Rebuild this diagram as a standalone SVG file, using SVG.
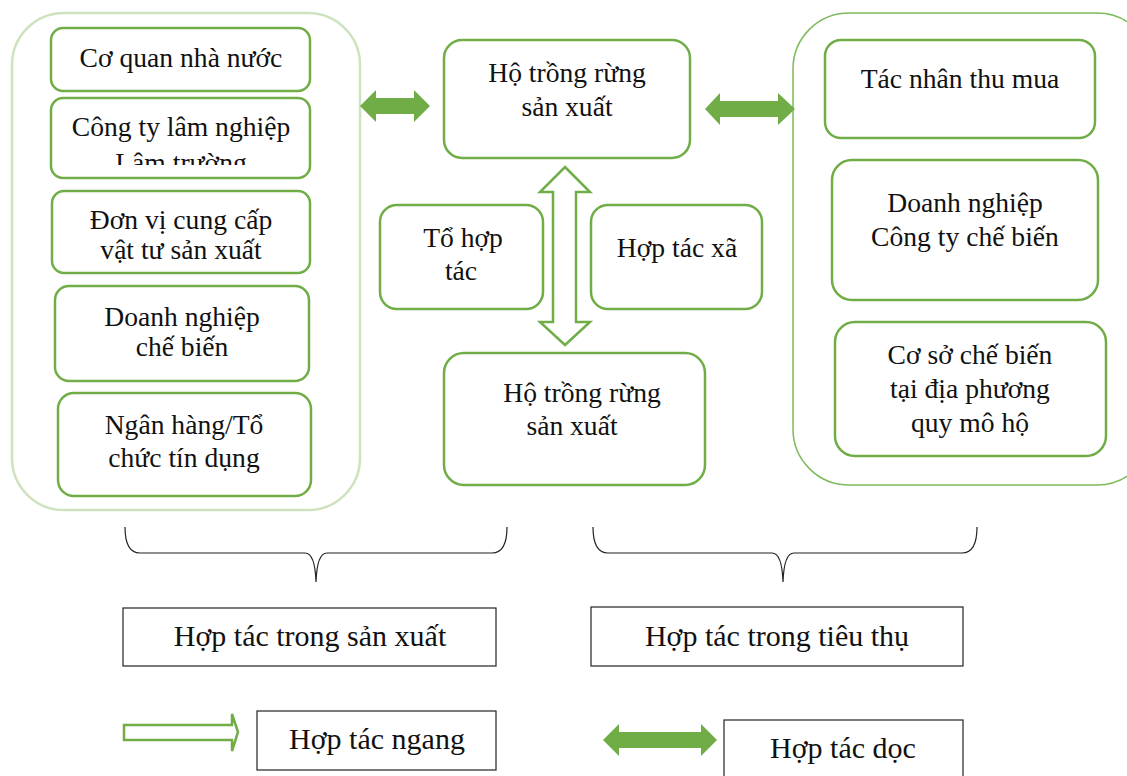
<svg xmlns="http://www.w3.org/2000/svg" width="1127" height="776" viewBox="0 0 1127 776">
<style>
.box{fill:#fff;stroke:#70ad47;stroke-width:2.5}
.t{font-family:'Liberation Serif','DejaVu Serif',serif;font-size:27.6px;fill:#111;text-anchor:middle}
.tb{font-family:'Liberation Serif','DejaVu Serif',serif;font-size:30px;fill:#111;text-anchor:middle}
.lbl{fill:#fff;stroke:#222;stroke-width:1.2}
.arr{fill:#70ad47;stroke:none}
.hollow{fill:#fff;stroke:#70ad47;stroke-width:2.5;stroke-linejoin:miter}
.brace{fill:none;stroke:#222;stroke-width:1.2}
</style>
<defs>
<clipPath id="clip2"><rect x="40" y="95" width="290" height="70"/></clipPath>
</defs>
<rect width="1127" height="776" fill="#fff"/>
<g id="left-group">
<rect x="12" y="13" width="348" height="497" rx="52" fill="#fff" stroke="#cde2bd" stroke-width="2.5"/>
</g>
<g id="right-group">
<rect x="793" y="13" width="360" height="472" rx="56" fill="#fff" stroke="#7dbb5a" stroke-width="1.5"/>
</g>
<g id="n-coquan"><rect class="box" x="51" y="28" width="259" height="63" rx="12"/><text class="t" x="181" y="67">Cơ quan nhà nước</text></g>
<g id="n-congty"><rect class="box" x="51" y="98" width="259" height="80" rx="12"/><g clip-path="url(#clip2)"><text class="t" x="181" y="136">Công ty lâm nghiệp</text><text class="t" x="181" y="172">Lâm trường</text></g></g>
<g id="n-donvi"><rect class="box" x="52" y="191" width="258" height="82" rx="12"/><text class="t" x="181" y="229">Đơn vị cung cấp</text><text class="t" x="181" y="259">vật tư sản xuất</text></g>
<g id="n-dn-left"><rect class="box" x="55" y="286" width="254" height="95" rx="14"/><text class="t" x="182" y="326">Doanh nghiệp</text><text class="t" x="182" y="356">chế biến</text></g>
<g id="n-nganhang"><rect class="box" x="58" y="393" width="253" height="103" rx="16"/><text class="t" x="184" y="434">Ngân hàng/Tổ</text><text class="t" x="184" y="467">chức tín dụng</text></g>
<g id="n-ho-top"><rect class="box" x="444" y="40" width="246" height="118" rx="18"/><text class="t" x="567" y="82">Hộ trồng rừng</text><text class="t" x="567" y="116">sản xuất</text></g>
<g id="n-tohop"><rect class="box" x="380" y="205" width="163" height="104" rx="17"/><text class="t" x="463" y="247">Tổ hợp</text><text class="t" x="461" y="280">tác</text></g>
<g id="n-htx"><rect class="box" x="591" y="205" width="171" height="104" rx="17"/><text class="t" x="677" y="257">Hợp tác xã</text></g>
<g id="n-ho-bottom"><rect class="box" x="444" y="353" width="261" height="132" rx="20"/><text class="t" x="582" y="402">Hộ trồng rừng</text><text class="t" x="572" y="435">sản xuất</text></g>
<g id="n-tacnhan"><rect class="box" x="825" y="40" width="270" height="98" rx="16"/><text class="t" x="960" y="88">Tác nhân thu mua</text></g>
<g id="n-dn-right"><rect class="box" x="832" y="160" width="266" height="140" rx="20"/><text class="t" x="965" y="212">Doanh nghiệp</text><text class="t" x="965" y="246">Công ty chế biến</text></g>
<g id="n-coso"><rect class="box" x="835" y="322" width="271" height="134" rx="20"/><text class="t" x="970" y="364">Cơ sở chế biến</text><text class="t" x="970" y="398">tại địa phương</text><text class="t" x="970" y="432">quy mô hộ</text></g>
<g id="connectors">
<polygon class="arr" points="360,106 376,90 376,98 414,98 414,90 430,106 414,122 414,114 376,114 376,122"/>
<polygon class="arr" points="705,109 720,93 720,101 778,101 778,93 795,109 778,125 778,117 720,117 720,125"/>
<polygon class="hollow" points="565,167 590,192 576,192 576,322 590,322 565,345 540,322 553,322 553,192 540,192"/>
<path class="brace" d="M125,527 Q125,553 140,553 L305,553 Q315,553 316,582 Q317,553 327,553 L492,553 Q507,553 507,527"/>
<path class="brace" d="M593,527 Q593,553 608,553 L772,553 Q782,553 783,582 Q784,553 794,553 L962,553 Q977,553 977,527"/>
</g>
<g id="n-sanxuat"><rect class="lbl" x="123" y="608" width="373" height="58"/><text class="tb" x="310" y="646">Hợp tác trong sản xuất</text></g>
<g id="n-tieuthu"><rect class="lbl" x="591" y="607" width="372" height="59"/><text class="tb" x="777" y="646">Hợp tác trong tiêu thụ</text></g>
<g id="legend-ngang"><polygon class="hollow" points="124,725 232,725 232,714 238,732 232,751 232,740 124,740" stroke-width="2"/><rect class="lbl" x="257" y="711" width="239" height="59"/><text class="tb" x="377" y="749">Hợp tác ngang</text></g>
<g id="legend-doc"><polygon class="arr" points="603,740 619,724 619,732 701,732 701,724 717,740 701,756 701,748 619,748 619,756"/><rect class="lbl" x="724" y="720" width="239" height="60"/><text class="tb" x="843" y="758">Hợp tác dọc</text></g>
</svg>
